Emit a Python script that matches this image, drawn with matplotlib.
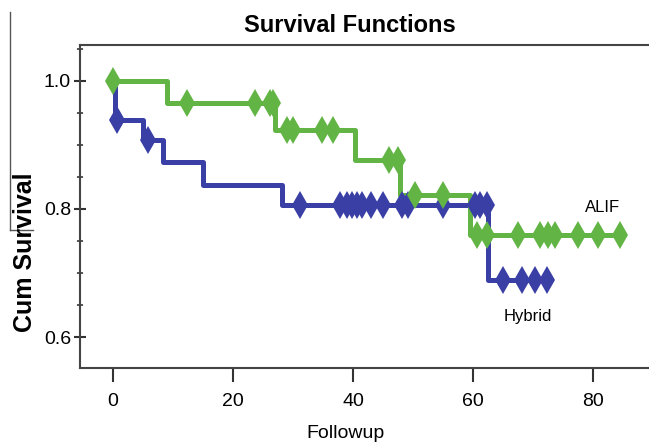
import matplotlib
matplotlib.use("Agg")
import matplotlib.pyplot as plt
from matplotlib.ticker import MultipleLocator
from matplotlib.lines import Line2D

plt.rcParams['font.family'] = ['Liberation Sans', 'DejaVu Sans']

# step points (time, survival) for each group
alif_t = [0, 9.0, 27.0, 40.3, 47.8, 59.5, 84.5]
alif_s = [1.0, 0.966, 0.923, 0.877, 0.822, 0.759, 0.759]
alif_cens_t = [0, 12.3, 23.7, 26.2, 26.7, 29.0, 30.0, 34.8, 36.7, 45.9, 47.5,
               50.3, 55.0, 60.7, 62.3, 67.5, 71.2, 72.5, 73.7, 77.5, 80.8, 84.5]
alif_cens_s = [1.0, 0.966, 0.966, 0.966, 0.966, 0.923, 0.923, 0.923, 0.923, 0.877, 0.877,
               0.822, 0.822, 0.759, 0.759, 0.759, 0.759, 0.759, 0.759, 0.759, 0.759, 0.759]

hyb_t = [0, 0.4, 5.0, 8.4, 15.0, 28.2, 62.5, 72.3]
hyb_s = [1.0, 0.939, 0.908, 0.873, 0.8375, 0.806, 0.689, 0.689]
hyb_cens_t = [0.6, 5.8, 31.2, 37.8, 39.0, 39.8, 40.6, 41.5, 43.0, 45.0, 48.2, 49.2,
              55.0, 60.3, 61.2, 62.3, 65.0, 68.2, 70.3, 72.3]
hyb_cens_s = [0.939, 0.908, 0.806, 0.806, 0.806, 0.806, 0.806, 0.806, 0.806, 0.806, 0.806, 0.806,
              0.806, 0.806, 0.806, 0.806, 0.689, 0.689, 0.689, 0.689]

BLUE = "#3a3fa6"
GREEN = "#62b545"

fig = plt.figure(figsize=(6.49, 4.42), dpi=100)
ax = fig.add_axes([80 / 649, 1 - 368 / 442, 1 - 80 / 649, (368 - 45) / 442])

ax.step(hyb_t, hyb_s, where="post", color=BLUE, lw=3.6, zorder=2)
ax.plot(hyb_cens_t, hyb_cens_s, ls="none", marker="d", ms=14, color=BLUE, mew=0, zorder=3)
ax.step(alif_t, alif_s, where="post", color=GREEN, lw=3.6, zorder=2)
ax.plot(alif_cens_t, alif_cens_s, ls="none", marker="d", ms=14, color=GREEN, mew=0, zorder=3)

ax.set_xlim(-5.5, 89.3)
ax.set_ylim(0.5516, 1.056)
ax.set_xticks([0, 20, 40, 60, 80])
ax.set_yticks([0.6, 0.8, 1.0])
ax.set_yticklabels(["0.6", "0.8", "1.0"])
ax.yaxis.set_minor_locator(MultipleLocator(0.05))

for s in ["left", "top", "bottom"]:
    ax.spines[s].set_color("#444444")
    ax.spines[s].set_linewidth(1.5)
ax.spines["right"].set_visible(False)

ax.tick_params(axis="x", direction="out", length=10, width=1.5, color="#333333",
               pad=8, labelsize=14)
ax.tick_params(axis="y", which="major", direction="inout", length=9, width=1.5,
               color="#333333", pad=2, labelsize=14)
ax.tick_params(axis="y", which="minor", direction="inout", length=4, width=1.2,
               color="#333333")

ax.text(603, 442 - 207, "ALIF", transform=None, fontsize=12, ha="center", va="center")
ax.text(528, 442 - 316, "Hybrid", transform=None, fontsize=12, ha="center", va="center")

fig.text(350 / 649, 1 - 25 / 442, "Survival Functions", ha="center", va="center",
         fontsize=17, fontweight="bold")
fig.text(25 / 649, 1 - 252 / 442, "Cum Survival", ha="center", va="center",
         rotation=90, fontsize=18, fontweight="bold")
fig.text(346 / 649, 1 - 433 / 442, "Followup", ha="center", va="center", fontsize=14)

# stray lines at the left edge of the original
fig.add_artist(Line2D([10 / 649, 10 / 649], [1 - 12 / 442, 1 - 230 / 442],
                      color="#555555", lw=1))
fig.add_artist(Line2D([10 / 649, 33 / 649], [1 - 230 / 442, 1 - 230 / 442],
                      color="#555555", lw=1))

fig.savefig("out.png", dpi=100)
